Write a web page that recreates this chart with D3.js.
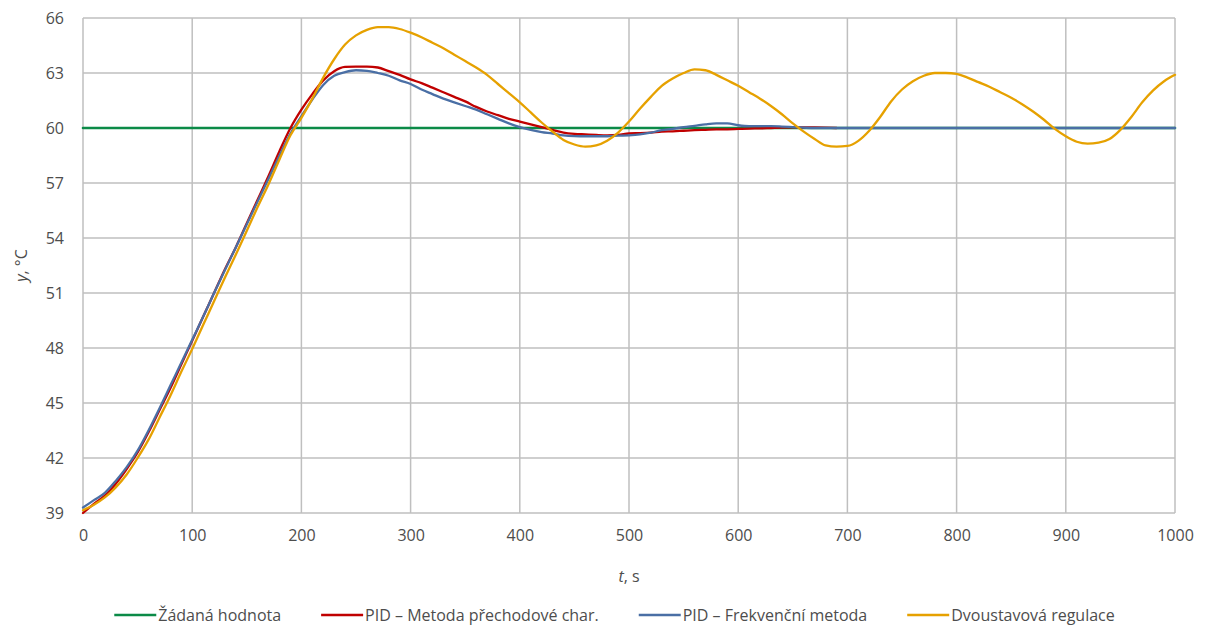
<!DOCTYPE html>
<html>
<head>
<meta charset="utf-8">
<script src="https://cdn.jsdelivr.net/npm/d3@7"></script>
<style>
  html, body { margin: 0; padding: 0; background: #fff; }
  svg { display: block; font-family: "Open Sans", "Noto Sans", sans-serif; }
</style>
</head>
<body>
<svg id="chart" width="1206" height="626"></svg>
<script>
// Sampling times, s
const time = d3.range(0, 1001, 10);

// Setpoint, °C
const setpoint = time.map(() => 60);

// PID tuned from the step response (record ends at 690 s)
const pidStep = [
  39.0, 39.5, 39.95, 40.6, 41.4, 42.3, 43.4, 44.6, 45.8, 47.1,
  48.4, 49.7, 51.0, 52.3, 53.5, 54.8, 56.1, 57.4, 58.75, 60.0,
  61.0, 61.85, 62.6, 63.1, 63.33, 63.35, 63.35, 63.3, 63.1, 62.9,
  62.65, 62.45, 62.2, 61.95, 61.7, 61.45, 61.15, 60.9, 60.7, 60.5,
  60.35, 60.2, 60.05, 59.9, 59.75, 59.68, 59.65, 59.62, 59.6, 59.62,
  59.7, 59.72, 59.75, 59.8, 59.82, 59.85, 59.88, 59.9, 59.92, 59.93,
  59.95, 59.97, 59.98, 60.0, 60.02, 60.03, 60.03, 60.03, 60.02, 60.0
];

// PID tuned by the frequency method
const pidFreq = [
  39.3, 39.7, 40.1, 40.75, 41.5, 42.4, 43.5, 44.7, 45.95, 47.2,
  48.45, 49.7, 51.0, 52.25, 53.5, 54.75, 56.0, 57.25, 58.5, 59.7,
  60.65, 61.55, 62.35, 62.85, 63.05, 63.15, 63.12, 63.0, 62.85, 62.6,
  62.4, 62.1, 61.85, 61.6, 61.4, 61.2, 61.0, 60.75, 60.5, 60.25,
  60.05, 59.9, 59.78, 59.7, 59.6, 59.56, 59.55, 59.55, 59.55, 59.58,
  59.6, 59.65, 59.75, 59.88, 59.95, 60.05, 60.12, 60.2, 60.25, 60.25,
  60.15, 60.1, 60.1, 60.1, 60.08, 60.05, 60.02, 60.0, 60.0, 60.0,
  60.0, 60.0, 60.0, 60.0, 60.0, 60.0, 60.0, 60.0, 60.0, 60.0,
  60.0, 60.0, 60.0, 60.0, 60.0, 60.0, 60.0, 60.0, 60.0, 60.0,
  60.0, 60.0, 60.0, 60.0, 60.0, 60.0, 60.0, 60.0, 60.0, 60.0,
  60.0
];

// On-off (two-position) control
const onOff = [
  39.15, 39.45, 39.85, 40.4, 41.1, 42.0, 43.0, 44.2, 45.4, 46.7,
  47.95, 49.25, 50.55, 51.85, 53.1, 54.4, 55.7, 56.95, 58.3, 59.6,
  60.55, 61.6, 62.75, 63.75, 64.55, 65.05, 65.35, 65.5, 65.5, 65.4,
  65.2, 64.95, 64.65, 64.35, 64.0, 63.65, 63.3, 62.9, 62.4, 61.9,
  61.4, 60.85, 60.3, 59.8, 59.35, 59.1, 58.98, 59.05, 59.3, 59.75,
  60.35, 61.05, 61.7, 62.3, 62.7, 63.0, 63.2, 63.15, 62.9, 62.6,
  62.3, 61.95, 61.6, 61.2, 60.75, 60.25, 59.8, 59.4, 59.05, 58.98,
  59.02, 59.3, 59.85, 60.6, 61.45, 62.1, 62.55, 62.85, 63.0, 63.0,
  62.95, 62.75, 62.5, 62.25, 61.95, 61.65, 61.3, 60.9, 60.45, 59.95,
  59.55, 59.25, 59.15, 59.2, 59.4, 59.9, 60.6, 61.4, 62.05, 62.55,
  62.9
];

const xTicks = d3.range(0, 1001, 100);
const yTicks = d3.range(39, 67, 3);

const seriesNames = [
  "Žádaná hodnota",
  "PID – Metoda přechodové char.",
  "PID – Frekvenční metoda",
  "Dvoustavová regulace"
];
const seriesValues = [setpoint, pidStep, pidFreq, onOff];
const seriesColors = ["#0b8a47", "#c00000", "#4a6fa5", "#e6a100"];

const svg = d3.select("#chart");
const margin = { left: 83, right: 31, top: 18, bottom: 113 };
const W = 1206, H = 626;
const iw = W - margin.left - margin.right;
const ih = H - margin.top - margin.bottom;

const x = d3.scaleLinear().domain([0, 1000]).range([margin.left, margin.left + iw]);
const y = d3.scaleLinear().domain([39, 66]).range([margin.top + ih, margin.top]);

const gridColor = "#bfbfbf";
const textColor = "#4d4d4d";
const fontSize = "16px";

// Grid
svg.append("g")
  .selectAll("line")
  .data(xTicks)
  .join("line")
  .attr("x1", d => x(d)).attr("x2", d => x(d))
  .attr("y1", y(39)).attr("y2", y(66))
  .attr("stroke", gridColor).attr("stroke-width", 1.5);

svg.append("g")
  .selectAll("line")
  .data(yTicks)
  .join("line")
  .attr("x1", x(0)).attr("x2", x(1000))
  .attr("y1", d => y(d)).attr("y2", d => y(d))
  .attr("stroke", gridColor).attr("stroke-width", 1.5);

// Axes (labels only, lines come from the grid)
const xAxis = svg.append("g")
  .attr("transform", `translate(0,${y(39)})`)
  .call(d3.axisBottom(x).tickValues(xTicks).tickFormat(d3.format("d")).tickSize(0).tickPadding(17));
const yAxis = svg.append("g")
  .attr("transform", `translate(${x(0)},0)`)
  .call(d3.axisLeft(y).tickValues(yTicks).tickFormat(d3.format("d")).tickSize(0).tickPadding(19));
[xAxis, yAxis].forEach(a => {
  a.select(".domain").remove();
  a.selectAll("text")
    .attr("fill", textColor)
    .style("font-size", fontSize)
    .style("font-family", "'Open Sans', sans-serif");
});

// Axis titles
const yTitle = svg.append("text")
  .attr("transform", `translate(27,${(y(39) + y(66)) / 2}) rotate(-90)`)
  .attr("text-anchor", "middle")
  .attr("fill", textColor)
  .style("font-size", fontSize);
yTitle.append("tspan").style("font-style", "italic").text("y");
yTitle.append("tspan").text(", °C");

const xTitle = svg.append("text")
  .attr("x", (x(0) + x(1000)) / 2)
  .attr("y", 582)
  .attr("text-anchor", "middle")
  .attr("fill", textColor)
  .style("font-size", fontSize);
xTitle.append("tspan").style("font-style", "italic").text("t");
xTitle.append("tspan").text(", s");

// Series
const line = d3.line()
  .defined(d => d != null)
  .x((d, i) => x(time[i]))
  .y(d => y(d))
  .curve(d3.curveMonotoneX);

svg.append("g")
  .attr("fill", "none")
  .attr("stroke-linejoin", "round")
  .attr("stroke-linecap", "round")
  .selectAll("path")
  .data(seriesValues)
  .join("path")
  .attr("d", d => line(d))
  .attr("stroke", (d, i) => seriesColors[i])
  .attr("stroke-width", (d, i) => i === 0 ? 2.6 : 2.3);

// Legend, centred under the plot
const legend = svg.append("g").attr("transform", "translate(0,615)");
const items = legend.selectAll("g")
  .data(seriesNames)
  .join("g");
items.append("line")
  .attr("x1", 0).attr("x2", 42).attr("y1", 0).attr("y2", 0)
  .attr("stroke", (d, i) => seriesColors[i])
  .attr("stroke-width", 2.3);
items.append("text")
  .attr("x", 44).attr("y", 5.5)
  .attr("fill", textColor)
  .style("font-size", fontSize)
  .text(d => d);

const gap = 40;
const widths = [];
items.each(function () {
  widths.push(44 + d3.select(this).select("text").node().getComputedTextLength());
});
const total = d3.sum(widths) + gap * (widths.length - 1);
let cx = 117 + (995 - total) / 2;
items.attr("transform", (d, i) => {
  const t = `translate(${cx},0)`;
  cx += widths[i] + gap;
  return t;
});
</script>
</body>
</html>
